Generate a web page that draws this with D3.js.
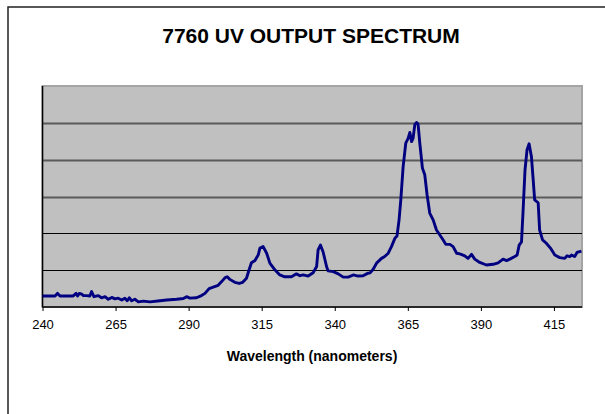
<!DOCTYPE html>
<html>
<head>
<meta charset="UTF-8">
<title>7760 UV Output Spectrum</title>
<script src="https://d3js.org/d3.v7.min.js"></script>
<style>
    body {
        margin: 0;
        background: #fff;
        overflow: hidden;
    }
    text {
        font-family: Arial, "Liberation Sans", sans-serif;
        fill: #000;
    }
</style>
</head>
<body>
<div id="chart"></div>
<script>
// wavelength (nm) and relative output
const wavelength = [
    240, 244.3, 245.1, 246.0, 250.5, 251.5, 252.0, 252.6, 253.4, 254.0, 255.1, 256.2, 256.8, 257.6,
    259.1, 260.2, 261.4, 262.5, 263.7, 264.8, 265.9, 267.1, 268.2, 269.0, 269.7, 270.5, 271.6, 272.8,
    274.5, 276.8, 280.2, 282.5, 285.9, 288.2, 289.3, 290.4, 292.7, 294.4, 295.6, 297.0, 298.4, 300.1,
    301.3, 302.4, 303.2, 304.1, 305.8, 307.3, 308.5, 309.8, 310.7, 311.5, 312.7, 313.8, 314.4, 315.5,
    316.7, 317.8, 319.5, 321.2, 322.9, 325.2, 326.9, 328.1, 329.2, 330.9, 332.6, 333.8, 334.3, 335.1,
    336.0, 337.2, 337.7, 339.5, 341.2, 342.9, 344.6, 346.3, 348.0, 349.7, 351.4, 352.0, 353.1, 354.3,
    356.0, 357.1, 358.3, 359.4, 360.6, 361.3, 362.0, 362.6, 363.4, 364.3, 365.1, 365.7, 366.3, 366.8,
    367.4, 368.0, 368.5, 369.1, 370.0, 370.8, 371.6, 372.5, 373.7, 374.8, 375.9, 377.1, 378.0, 379.4,
    380.5, 381.7, 382.8, 384.5, 385.6, 386.8, 387.9, 389.6, 391.9, 394.2, 395.9, 397.6, 398.8, 399.9,
    401.6, 402.4, 403.1, 403.9, 404.4, 405.1, 405.8, 406.5, 407.3, 407.9, 408.4, 409.6, 410.1, 411.1,
    412.4, 413.8, 415.3, 417.0, 418.7, 419.5, 420.4, 421.0, 422.1, 422.9, 424.4
];
const output = [
    3.0, 3.0, 3.7, 3.0, 3.0, 3.7, 3.0, 3.7, 3.5, 3.1, 3.1, 3.0, 4.2, 2.8,
    3.1, 2.5, 2.8, 2.1, 2.6, 2.2, 2.4, 1.9, 2.4, 1.7, 2.5, 1.7, 2.1, 1.4,
    1.6, 1.4, 1.7, 1.9, 2.1, 2.3, 2.8, 2.4, 2.5, 3.1, 3.7, 5.0, 5.4, 5.9,
    6.9, 7.9, 8.2, 7.5, 6.7, 6.4, 6.7, 7.8, 10.1, 12.0, 12.6, 14.1, 16.0, 16.4,
    14.6, 11.9, 10.1, 8.7, 8.2, 8.2, 9.0, 8.5, 8.7, 8.4, 9.3, 11.0, 15.5, 16.8,
    15.0, 11.0, 9.8, 9.6, 9.0, 8.1, 8.1, 8.7, 8.4, 8.5, 9.2, 9.2, 10.2, 11.9,
    13.2, 13.7, 14.6, 16.4, 18.7, 19.3, 23.6, 29.1, 38.1, 44.5, 45.8, 47.4, 44.9, 45.8,
    49.5, 50.1, 49.7, 44.5, 37.7, 35.9, 30.4, 25.5, 23.6, 20.9, 19.6, 18.2, 17.0, 17.0,
    16.4, 14.6, 14.4, 13.9, 13.2, 14.3, 13.0, 12.1, 11.4, 11.6, 12.0, 13.0, 12.6, 13.0,
    13.7, 14.1, 16.8, 17.7, 25.5, 37.2, 42.7, 44.3, 40.8, 34.5, 29.1, 28.3, 20.9, 18.2,
    17.3, 16.0, 14.1, 13.4, 13.2, 13.9, 13.7, 14.1, 13.7, 14.8, 15.2
];
const xTicks = [240, 265, 290, 315, 340, 365, 390, 415];
const yTicks = [10, 20, 30, 40, 50];

const width = 605, height = 414;
const margin = {top: 86, right: 23, bottom: 107, left: 42.5};

const svg = d3.select("#chart").append("svg")
    .attr("width", width)
    .attr("height", height);

// outer chart frame (runs off the page on the right and bottom)
svg.append("rect")
    .attr("x", 8).attr("y", 7)
    .attr("width", 640).attr("height", 440)
    .attr("fill", "#fff")
    .attr("stroke", "#222")
    .attr("stroke-width", 1.5);

svg.append("text")
    .attr("x", 311).attr("y", 42.5)
    .attr("text-anchor", "middle")
    .attr("font-size", "21px")
    .attr("font-weight", "bold")
    .text("7760 UV OUTPUT SPECTRUM");

const x = d3.scaleLinear()
    .domain([240, 424.6])
    .range([margin.left, width - margin.right]);
const y = d3.scaleLinear()
    .domain([0, 60])
    .range([height - margin.bottom, margin.top]);

// plot area
svg.append("rect")
    .attr("x", x(240)).attr("y", y(60))
    .attr("width", x(424.6) - x(240))
    .attr("height", y(0) - y(60))
    .attr("fill", "#c0c0c0")
    .attr("stroke", "#a4a4a4")
    .attr("stroke-width", 2);

svg.append("g")
    .selectAll("line")
    .data(yTicks)
    .join("line")
    .attr("x1", x(240)).attr("x2", x(424.6))
    .attr("y1", d => Math.round(y(d)) + 0.5)
    .attr("y2", d => Math.round(y(d)) + 0.5)
    .attr("stroke", d => d >= 30 ? "#5a5a5a" : "#000")
    .attr("stroke-width", d => d >= 30 ? 1.8 : 1.1);

// left axis line
svg.append("line")
    .attr("x1", x(240)).attr("x2", x(240))
    .attr("y1", y(60)).attr("y2", y(0))
    .attr("stroke", "#000").attr("stroke-width", 1.5);

const xAxis = svg.append("g")
    .attr("transform", `translate(0,${y(0)})`)
    .call(d3.axisBottom(x).tickValues(xTicks).tickSize(4).tickPadding(9).tickFormat(d3.format("d")));
xAxis.select(".domain").attr("stroke", "#000").attr("stroke-width", 1.5)
    .attr("d", `M${x(240)},0H${x(424.6)}`);
xAxis.selectAll(".tick line").attr("stroke", "#000");
xAxis.selectAll(".tick text")
    .attr("font-size", "13px")
    .attr("font-family", "Arial, 'Liberation Sans', sans-serif");

svg.append("text")
    .attr("x", 312).attr("y", 360.5)
    .attr("text-anchor", "middle")
    .attr("font-size", "14px")
    .attr("font-weight", "bold")
    .text("Wavelength (nanometers)");

const line = d3.line()
    .x((d, i) => x(wavelength[i]))
    .y(d => y(d));

svg.append("path")
    .datum(output)
    .attr("d", line)
    .attr("fill", "none")
    .attr("stroke", "#000080")
    .attr("stroke-width", 2.9)
    .attr("stroke-linejoin", "round");
</script>
</body>
</html>
